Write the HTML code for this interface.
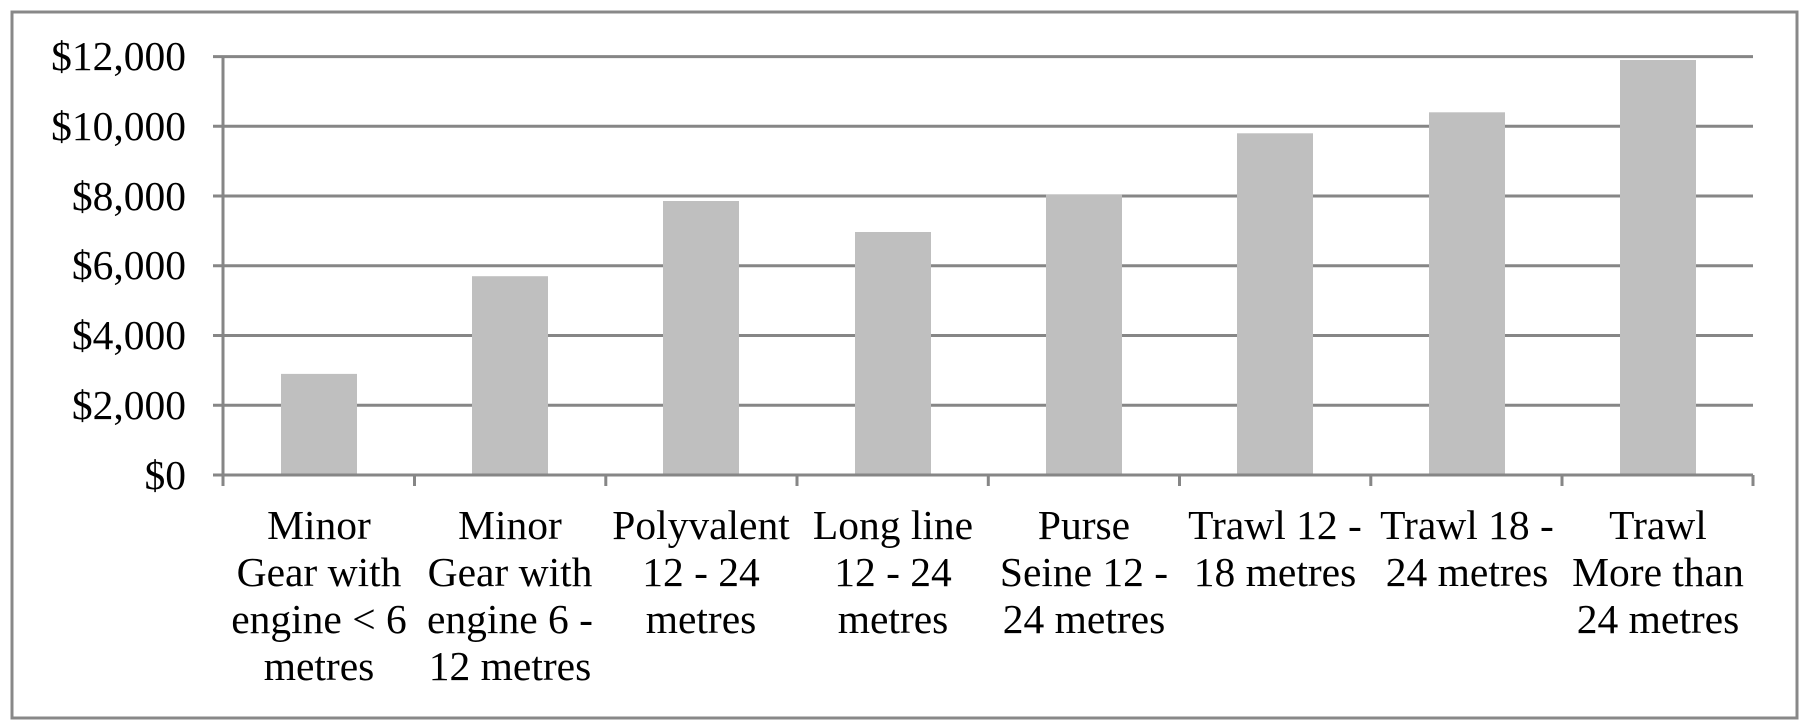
<!DOCTYPE html>
<html><head><style>
html,body{margin:0;padding:0;background:#fff;}
svg{display:block;}
text{font-family:"Liberation Serif","Times New Roman",serif;font-size:41.5px;fill:#000;}
</style></head><body>
<svg width="1812" height="728" viewBox="0 0 1812 728">
<rect x="12" y="12" width="1785" height="706" fill="#fff" stroke="#888" stroke-width="3"/>
<g stroke="#868686" stroke-width="3">
<line x1="213" y1="56.6" x2="1753" y2="56.6"/>
<line x1="213" y1="126.3" x2="1753" y2="126.3"/>
<line x1="213" y1="196" x2="1753" y2="196"/>
<line x1="213" y1="265.8" x2="1753" y2="265.8"/>
<line x1="213" y1="335.5" x2="1753" y2="335.5"/>
<line x1="213" y1="405.3" x2="1753" y2="405.3"/>
</g>
<g fill="#bfbfbf">
<rect x="281" y="373.9" width="76" height="101.1"/>
<rect x="472" y="276.2" width="76" height="198.8"/>
<rect x="663" y="201" width="76" height="274"/>
<rect x="855" y="232" width="76" height="243"/>
<rect x="1046" y="194.3" width="76" height="280.7"/>
<rect x="1237" y="133.3" width="76" height="341.7"/>
<rect x="1429" y="112.3" width="76" height="362.7"/>
<rect x="1620" y="60" width="76" height="415"/>
</g>
<g stroke="#868686" stroke-width="3">
<line x1="213" y1="475" x2="1753" y2="475"/>
<line x1="223" y1="56" x2="223" y2="486"/>
<line x1="414.5" y1="475" x2="414.5" y2="486"/>
<line x1="605.8" y1="475" x2="605.8" y2="486"/>
<line x1="797" y1="475" x2="797" y2="486"/>
<line x1="988.3" y1="475" x2="988.3" y2="486"/>
<line x1="1179.5" y1="475" x2="1179.5" y2="486"/>
<line x1="1370.8" y1="475" x2="1370.8" y2="486"/>
<line x1="1562" y1="475" x2="1562" y2="486"/>
<line x1="1753" y1="475" x2="1753" y2="486"/>
</g>
<g text-anchor="end">
<text x="186" y="70">$12,000</text>
<text x="186" y="140">$10,000</text>
<text x="186" y="210">$8,000</text>
<text x="186" y="279">$6,000</text>
<text x="186" y="349">$4,000</text>
<text x="186" y="419">$2,000</text>
<text x="186" y="489">$0</text>
</g>
<g text-anchor="middle">
<text x="319" y="539">Minor</text><text x="319" y="586">Gear with</text><text x="319" y="633">engine &lt; 6</text><text x="319" y="680">metres</text>
<text x="510" y="539">Minor</text><text x="510" y="586">Gear with</text><text x="510" y="633">engine 6 -</text><text x="510" y="680">12 metres</text>
<text x="701" y="539">Polyvalent</text><text x="701" y="586">12 - 24</text><text x="701" y="633">metres</text>
<text x="893" y="539">Long line</text><text x="893" y="586">12 - 24</text><text x="893" y="633">metres</text>
<text x="1084" y="539">Purse</text><text x="1084" y="586">Seine 12 -</text><text x="1084" y="633">24 metres</text>
<text x="1275" y="539">Trawl 12 -</text><text x="1275" y="586">18 metres</text>
<text x="1467" y="539">Trawl 18 -</text><text x="1467" y="586">24 metres</text>
<text x="1658" y="539">Trawl</text><text x="1658" y="586">More than</text><text x="1658" y="633">24 metres</text>
</g>
</svg>
</body></html>
